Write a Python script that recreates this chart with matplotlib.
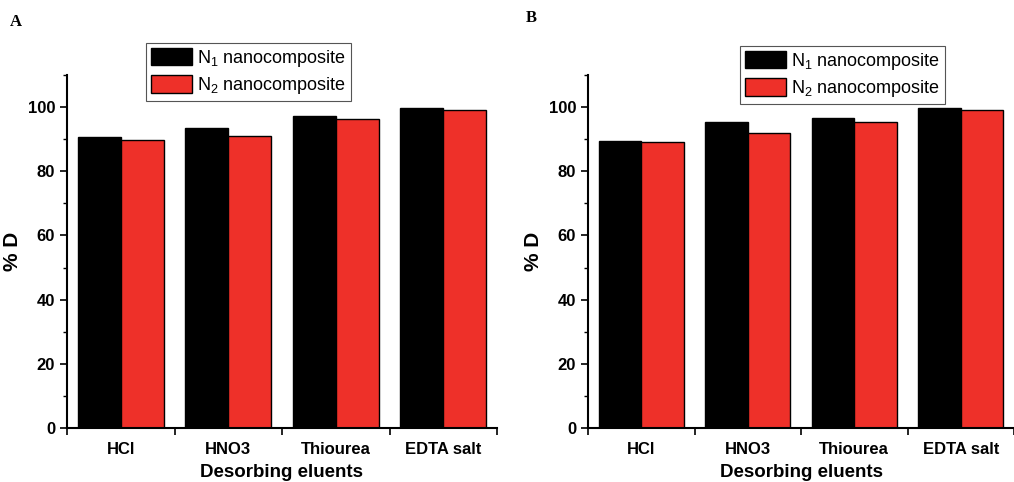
import matplotlib
matplotlib.use("Agg")
import matplotlib.pyplot as plt
import numpy as np
from matplotlib.ticker import MultipleLocator

plt.rcParams["font.family"] = ["Liberation Sans", "DejaVu Sans"]
plt.rcParams["mathtext.fontset"] = "custom"
plt.rcParams["mathtext.rm"] = "Liberation Sans"

eluents = ["HCl", "HNO3", "Thiourea", "EDTA salt"]
a_n1 = [90.8, 93.5, 97.1, 99.6]
a_n2 = [89.7, 90.9, 96.4, 99.2]
b_n1 = [89.4, 95.4, 96.6, 99.6]
b_n2 = [89.0, 92.0, 95.5, 99.2]
labels = ["N$_1$ nanocomposite", "N$_2$ nanocomposite"]

BLACK = "#000000"
RED = "#ee3029"
W, H = 1014, 482

fig = plt.figure(figsize=(W / 100, H / 100), dpi=100)


def panel(left_px, right_px, n1, n2, tag, tag_xy, leg_xy):
    ax = fig.add_axes([left_px / W, (H - 428) / H, (right_px - left_px) / W, (428 - 75) / H])
    x = np.arange(len(eluents))
    bw = 0.4
    ax.bar(x - bw / 2, n1, bw, color=BLACK, edgecolor="black", lw=1.0, label=labels[0])
    ax.bar(x + bw / 2, n2, bw, color=RED, edgecolor="black", lw=1.0, label=labels[1])
    ax.set_ylim(0, 110)
    ax.set_xlim(-0.5, -0.5 + (right_px - left_px) / 109)
    ax.yaxis.set_major_locator(MultipleLocator(20))
    ax.yaxis.set_minor_locator(MultipleLocator(10))
    ax.set_xticks(x)
    ax.set_xticklabels(eluents, fontweight="bold", fontsize=12)
    ax.set_xticks(np.arange(len(eluents) + 1) - 0.5, minor=True)
    ax.tick_params(axis="x", which="major", length=0, pad=10)
    ax.tick_params(axis="x", which="minor", length=5, width=1.2, direction="out")
    ax.tick_params(axis="y", which="major", length=5, width=1.2, direction="out", labelsize=12)
    ax.tick_params(axis="y", which="minor", length=3, width=1.0, direction="out")
    for t in ax.get_yticklabels():
        t.set_fontweight("bold")
    for s in ["top", "right"]:
        ax.spines[s].set_visible(False)
    for s in ["left", "bottom"]:
        ax.spines[s].set_linewidth(1.5)
    ax.set_ylabel("% D", fontsize=15, fontweight="bold", labelpad=4)
    ax.set_xlabel("Desorbing eluents", fontsize=13.5, fontweight="bold", labelpad=5)
    leg = ax.legend(loc="upper left", bbox_to_anchor=(leg_xy[0] / W, 1 - leg_xy[1] / H),
                    bbox_transform=fig.transFigure, borderaxespad=0, fontsize=13,
                    fancybox=False, edgecolor="#555555", framealpha=1,
                    handlelength=2.3, handleheight=1.15, handletextpad=0.3,
                    labelspacing=0.35, borderpad=0.25)
    leg.get_frame().set_linewidth(0.8)
    fig.text(tag_xy[0] / W, 1 - tag_xy[1] / H, tag, family=["Liberation Serif"],
             fontweight="bold", fontsize=12, va="center", ha="left")
    return ax


panel(67, 497, a_n1, a_n2, "A", (10, 22), (146, 43))
panel(588, 1014, b_n1, b_n2, "B", (526, 18), (740, 46))

fig.savefig("out.png", dpi=100)
